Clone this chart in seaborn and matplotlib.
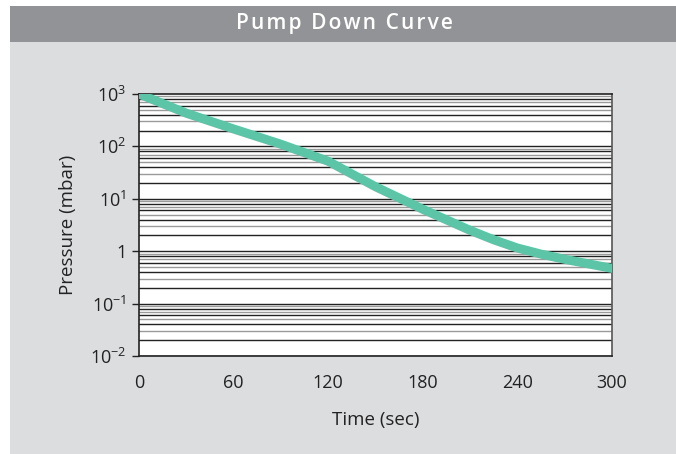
import numpy as np
import pandas as pd
import matplotlib
matplotlib.use('Agg')
import matplotlib.pyplot as plt
import matplotlib.ticker as ticker
import seaborn as sns

# данные
time_sec = [0, 30, 60, 90, 120, 150, 180, 210, 225, 240, 255, 270, 300]
pressure_mbar = [1000, 430, 215, 110, 52, 17, 6.3, 2.5, 1.65, 1.15, 0.88, 0.7, 0.47]
x_ticks = [0, 60, 120, 180, 240, 300]
y_ticks = [0.01, 0.1, 1, 10, 100, 1000]
y_tick_labels = ['$10^{-2}$', '$10^{-1}$', '1', '$10^{1}$', '$10^{2}$', '$10^{3}$']
title = 'Pump Down Curve'

df = pd.DataFrame({'t': time_sec, 'p': pressure_mbar})

sns.set_style('white')
plt.rcParams['font.family'] = ['Open Sans', 'DejaVu Sans']
plt.rcParams['mathtext.fontset'] = 'custom'
plt.rcParams['mathtext.rm'] = 'Open Sans'
plt.rcParams['mathtext.it'] = 'Open Sans'

fig = plt.figure(figsize=(6.76, 4.54), dpi=100)
fig.patch.set_facecolor('white')

# фон и шапка
W, H = 676, 454
fig.add_artist(plt.Rectangle((10 / W, 0), 1 - 10 / W, 1 - 42 / H, transform=fig.transFigure,
                             facecolor='#dcdddf', edgecolor='none', zorder=-10))
fig.add_artist(plt.Rectangle((10 / W, 1 - 42 / H), 1 - 10 / W, 36 / H, transform=fig.transFigure,
                             facecolor='#929396', edgecolor='none', zorder=-10))
# разрядка букв заголовка
fig.text(344 / W, 1 - 23 / H, '\u200a'.join(title), ha='center', va='center', color='white',
         fontsize=15, fontweight='semibold', family=['Open Sans', 'DejaVu Sans'])

ax = fig.add_axes([139 / W, 1 - 356 / H, (612 - 139) / W, (356 - 94) / H])
ax.set_facecolor('white')

# линии сетки
for d in range(-2, 3):
    for k in range(2, 10):
        col = '#222222' if k % 2 == 0 else '#9a9a9a'
        ax.axhline(k * 10.0 ** d, color=col, lw=1.0, zorder=1)
    ax.axhline(10.0 ** d, color='#222222', lw=1.0, zorder=1)

sns.lineplot(data=df, x='t', y='p', ax=ax, color='#5cc5a7', lw=6.5, zorder=3)

ax.set_yscale('log')
ax.set_xlim(0, 300)
ax.set_ylim(0.01, 1000)
ax.set_xticks(x_ticks)
ax.set_xticklabels([str(v) for v in x_ticks])
ax.set_yticks(y_ticks)
ax.set_yticklabels(y_tick_labels)
ax.yaxis.set_minor_locator(ticker.NullLocator())
ax.tick_params(axis='x', length=0, pad=13, labelsize=13, colors='#222222')
ax.tick_params(axis='y', left=True, length=5, width=1, direction='out', pad=4, labelsize=13,
               colors='#222222')
ax.set_xlabel('Time (sec)', fontsize=13.5, color='#222222', labelpad=14)
ax.set_ylabel('Pressure (mbar)', fontsize=13.5, color='#222222', labelpad=9)
for s in ax.spines.values():
    s.set_color('#222222')
    s.set_linewidth(1.2)
ax.spines['right'].set_color('#555555')

fig.savefig('out.png', dpi=100)
